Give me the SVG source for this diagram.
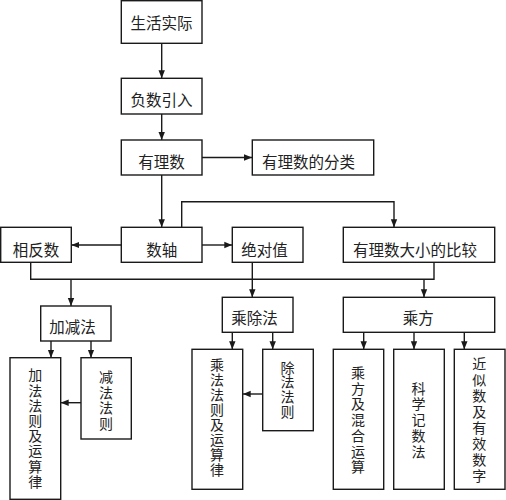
<svg xmlns="http://www.w3.org/2000/svg" width="506" height="500" viewBox="0 0 506 500">
<defs>
<marker id="ah" markerUnits="userSpaceOnUse" markerWidth="8" markerHeight="8" viewBox="0 0 8 8" refX="8" refY="4" orient="auto">
<path d="M0,0.8 L8,4 L0,7.2 Z" fill="#1a1a1a"/>
</marker>
<style>
rect{fill:#fff;stroke:#1a1a1a;stroke-width:1.4}
text{font-family:"Noto Sans CJK SC","Noto Sans",sans-serif;font-size:15.5px;fill:#222;text-anchor:middle}
text.v{font-size:14px;writing-mode:vertical-rl;text-anchor:start}
.c path{fill:none;stroke:#1a1a1a;stroke-width:1.4}
.c path.a{marker-end:url(#ah)}
</style>
</defs>
<rect x="0" y="0" width="506" height="500" style="fill:#fff;stroke:none"/>
<g class="c" id="connectors">
<path class="a" d="M161.7 43.3V78.3"/>
<path class="a" d="M161.7 114V140"/>
<path class="a" d="M202 157.5H252"/>
<path class="a" d="M161.7 175V227.3"/>
<path class="a" d="M121.3 245H71.3"/>
<path class="a" d="M202 245H232.3"/>
<path class="a" d="M181.7 227.3V201.7H394V227.3"/>
<path d="M30.7 262.3V279.3H434V262.3"/>
<path class="a" d="M71 279.3V306"/>
<path class="a" d="M252.3 262.7V297.3"/>
<path class="a" d="M424 279.3V297.3"/>
<path class="a" d="M51 341V357.7"/>
<path class="a" d="M91 341V357.7"/>
<path class="a" d="M81 402.7H60.7"/>
<path class="a" d="M232.3 332.3V349.3"/>
<path class="a" d="M272.7 332.3V349.3"/>
<path class="a" d="M262.7 394H242.7"/>
<path class="a" d="M363.7 332.3V349.3"/>
<path class="a" d="M414 332.3V349.3"/>
<path class="a" d="M464.3 332.3V349.3"/>
</g>
<g id="n-shenghuo"><rect x="121.3" y="0.7" width="80.7" height="42.6"/><text x="161.5" y="29.3">生活实际</text></g>
<g id="n-fushu"><rect x="121.3" y="78.3" width="80.7" height="35.7"/><text x="161.5" y="106">负数引入</text></g>
<g id="n-youlishu"><rect x="121.3" y="140" width="80.7" height="35"/><text x="161.5" y="167.5">有理数</text></g>
<g id="n-fenlei"><rect x="252.3" y="140" width="121.4" height="35"/><text x="308.5" y="167.5">有理数的分类</text></g>
<g id="n-shuzhou"><rect x="121.3" y="227.3" width="80.7" height="35"/><text x="161.7" y="256">数轴</text></g>
<g id="n-xiangfan"><rect x="0.7" y="227.3" width="70.6" height="35"/><text x="36" y="256">相反数</text></g>
<g id="n-jueduizhi"><rect x="232.3" y="227.3" width="70.7" height="35"/><text x="264.5" y="256">绝对值</text></g>
<g id="n-bijiao"><rect x="343.3" y="227.3" width="151.4" height="35"/><text x="415" y="256">有理数大小的比较</text></g>
<g id="n-jiajian"><rect x="40.7" y="306" width="70.3" height="35"/><text x="72.5" y="332.7">加减法</text></g>
<g id="n-chengchu"><rect x="222.3" y="297.3" width="70.7" height="35"/><text x="254.5" y="324.3">乘除法</text></g>
<g id="n-chengfang"><rect x="343.3" y="297.3" width="151.4" height="35"/><text x="418.3" y="324.3">乘方</text></g>
<g id="n-jiafa"><rect x="10" y="357.7" width="50.7" height="141.6"/><text class="v" x="35.3" y="368" letter-spacing="1.2">加法法则及运算律</text></g>
<g id="n-jianfa"><rect x="81" y="357.7" width="50.3" height="81.3"/><text class="v" x="106" y="369.7" letter-spacing="1.5">减法法则</text></g>
<g id="n-chengfa"><rect x="192" y="349.3" width="50.7" height="140"/><text class="v" x="217" y="358" letter-spacing="1">乘法法则及运算律</text></g>
<g id="n-chufa"><rect x="262.7" y="349.3" width="50.6" height="81.4"/><text class="v" x="287.5" y="360.3" letter-spacing="0.8">除法法则</text></g>
<g id="n-hunhe"><rect x="333.3" y="349.3" width="50.4" height="140"/><text class="v" x="358" y="365.7" letter-spacing="1.7">乘方及混合运算</text></g>
<g id="n-kexue"><rect x="393.7" y="349.3" width="50.6" height="140"/><text class="v" x="418.5" y="381.3" letter-spacing="1.8">科学记数法</text></g>
<g id="n-jinsi"><rect x="454.3" y="349.3" width="50.7" height="140"/><text class="v" x="479.3" y="356.3" letter-spacing="2">近似数及有效数字</text></g>
</svg>
